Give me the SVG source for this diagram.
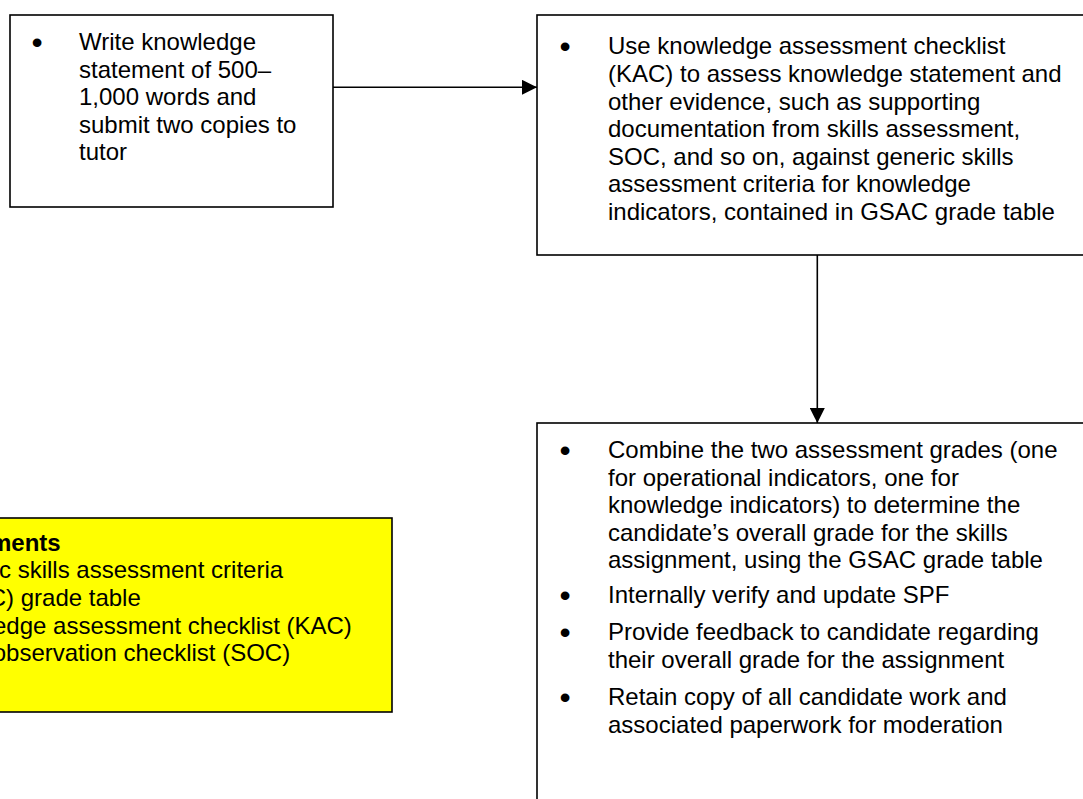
<svg xmlns="http://www.w3.org/2000/svg" width="1083" height="799" viewBox="0 0 1083 799">
  <style>
    .box { fill: #ffffff; stroke: #000000; stroke-width: 1.6; }
    .note { fill: #ffff00; stroke: #000000; stroke-width: 1.6; }
    .txt { font-family: "Liberation Sans", Arial, sans-serif; font-size: 24px; fill: #000000; }
    .bold { font-weight: bold; }
    .bul { font-family: "Liberation Sans", Arial, sans-serif; font-size: 32px; fill: #000000; text-anchor: middle; }
    .link { fill: none; stroke: #000000; stroke-width: 1.6; }
  </style>
  <defs>
    <marker id="arrow" markerUnits="userSpaceOnUse" markerWidth="15" markerHeight="15" refX="15" refY="7.5" orient="auto">
      <path d="M0,0 L15,7.5 L0,15 Z" fill="#000000"/>
    </marker>
  </defs>
  <rect width="1083" height="799" fill="#ffffff"/>

  <!-- step 1: knowledge statement -->
  <g id="write-statement">
    <rect class="box" x="10" y="15" width="323" height="192"/>
    <text class="bul" x="37" y="53">•</text>
    <text class="txt">
      <tspan x="79" y="50">Write knowledge</tspan>
      <tspan x="79" y="77.6">statement of 500–</tspan>
      <tspan x="79" y="105.2">1,000 words and</tspan>
      <tspan x="79" y="132.8">submit two copies to</tspan>
      <tspan x="79" y="160.4">tutor</tspan>
    </text>
  </g>

  <!-- step 2: assess with KAC -->
  <g id="assess-knowledge">
    <rect class="box" x="537" y="15" width="570" height="240"/>
    <text class="bul" x="565" y="57.3">•</text>
    <text class="txt">
      <tspan x="608" y="54.3">Use knowledge assessment checklist</tspan>
      <tspan x="608" y="81.9">(KAC) to assess knowledge statement and</tspan>
      <tspan x="608" y="109.5">other evidence, such as supporting</tspan>
      <tspan x="608" y="137.1">documentation from skills assessment,</tspan>
      <tspan x="608" y="164.7">SOC, and so on, against generic skills</tspan>
      <tspan x="608" y="192.3">assessment criteria for knowledge</tspan>
      <tspan x="608" y="219.9">indicators, contained in GSAC grade table</tspan>
    </text>
  </g>

  <!-- step 3: combine grades, verify, feedback, retain -->
  <g id="combine-grades">
    <rect class="box" x="537" y="423" width="570" height="400"/>
    <text class="bul" x="565" y="461">•</text>
    <text class="bul" x="565" y="606">•</text>
    <text class="bul" x="565" y="643">•</text>
    <text class="bul" x="565" y="708">•</text>
    <text class="txt">
      <tspan x="608" y="458">Combine the two assessment grades (one</tspan>
      <tspan x="608" y="485.6">for operational indicators, one for</tspan>
      <tspan x="608" y="513.2">knowledge indicators) to determine the</tspan>
      <tspan x="608" y="540.8">candidate’s overall grade for the skills</tspan>
      <tspan x="608" y="568.4">assignment, using the GSAC grade table</tspan>
      <tspan x="608" y="603">Internally verify and update SPF</tspan>
      <tspan x="608" y="640">Provide feedback to candidate regarding</tspan>
      <tspan x="608" y="667.6">their overall grade for the assignment</tspan>
      <tspan x="608" y="705">Retain copy of all candidate work and</tspan>
      <tspan x="608" y="732.6">associated paperwork for moderation</tspan>
    </text>
  </g>

  <!-- documents note -->
  <g id="documents">
    <rect class="note" x="-10" y="518" width="402" height="194"/>
    <text class="txt bold" x="-10" y="550.7">ments</text>
    <text class="txt">
      <tspan x="-1" y="578.3">c skills assessment criteria</tspan>
      <tspan x="-11.3" y="605.9">C) grade table</tspan>
      <tspan x="-7" y="633.5">edge assessment checklist (KAC)</tspan>
      <tspan x="-7.3" y="661.1">observation checklist (SOC)</tspan>
    </text>
  </g>

  <!-- connectors -->
  <g id="connectors">
    <path class="link" d="M333,87.3 L537,87.3" marker-end="url(#arrow)"/>
    <path class="link" d="M817.3,255 L817.3,423" marker-end="url(#arrow)"/>
  </g>
</svg>
